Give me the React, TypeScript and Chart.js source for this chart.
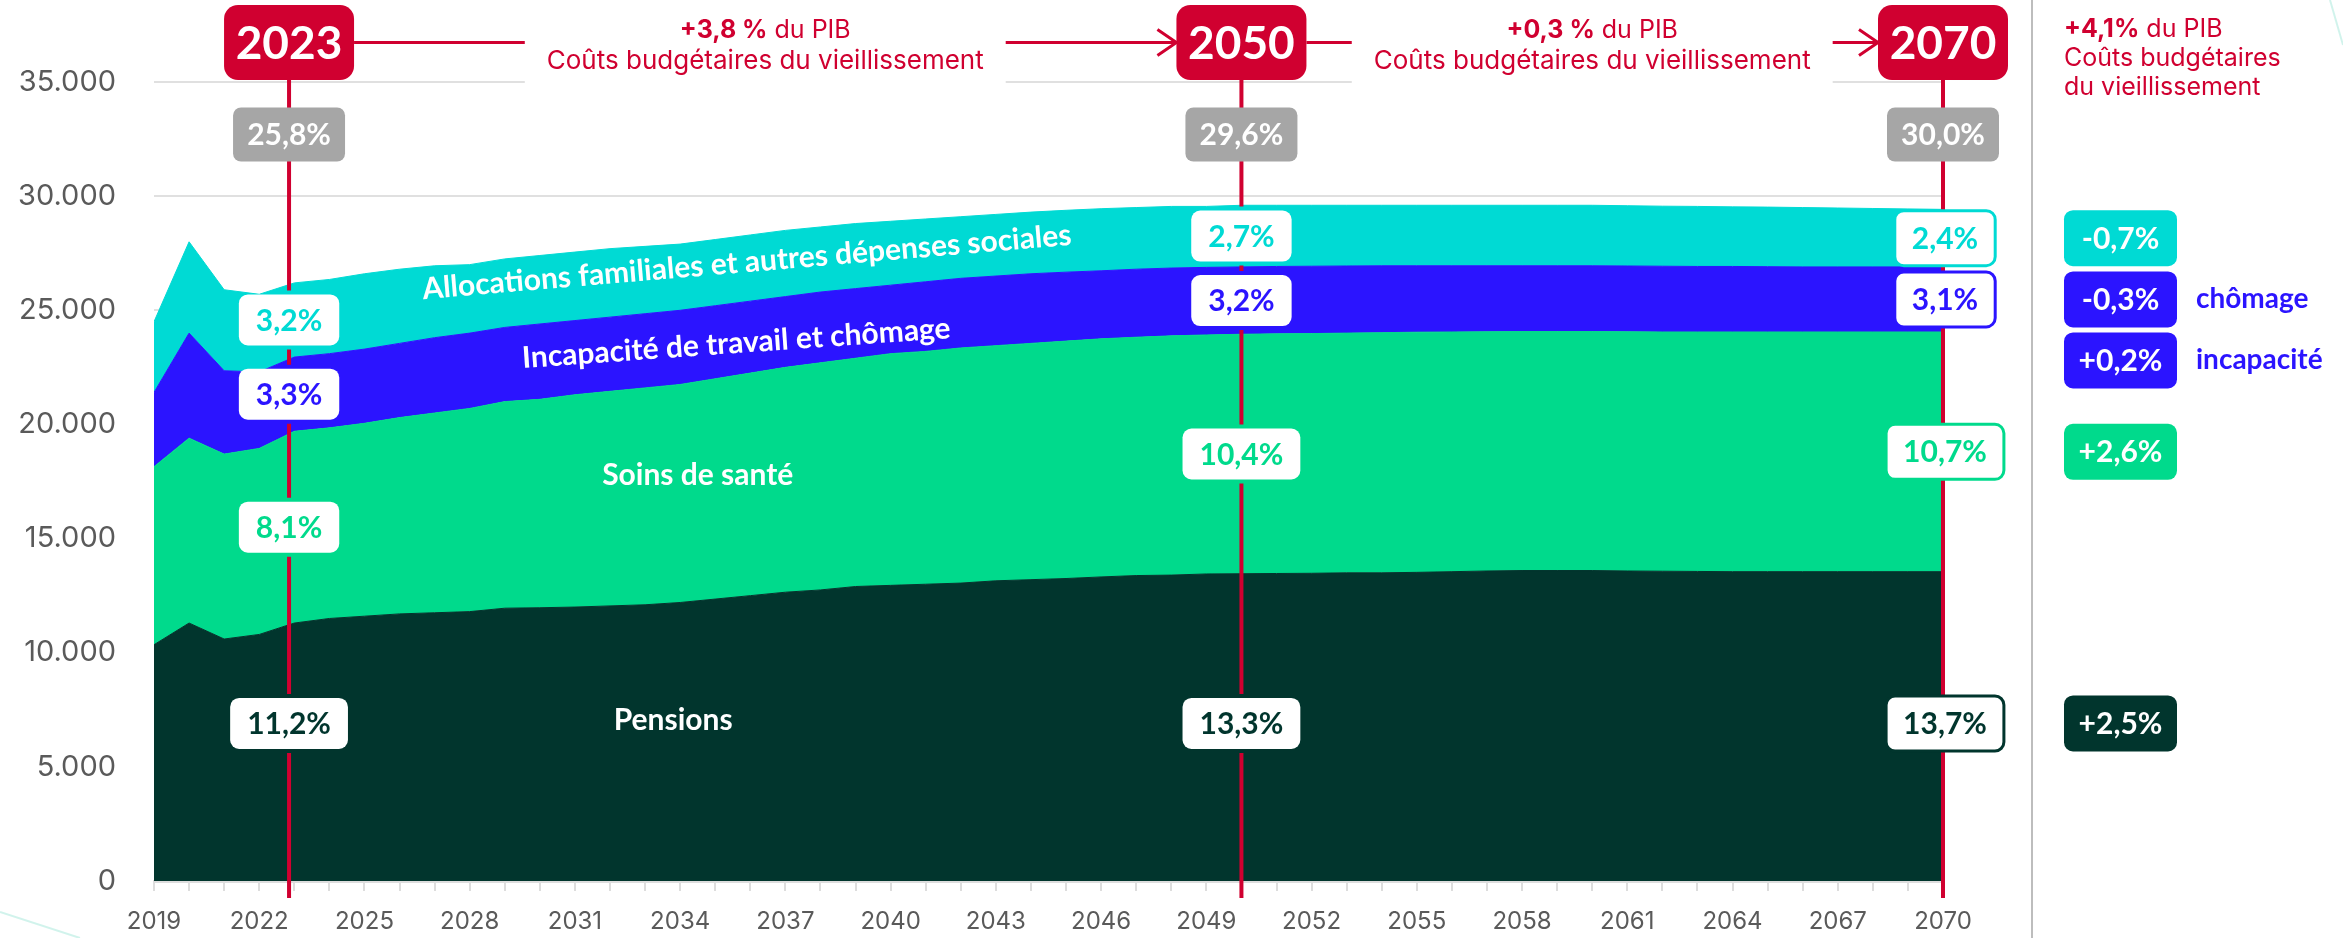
import React, { useEffect, useRef } from 'react';
import { Chart, registerables } from 'chart.js';

Chart.register(...registerables);

// ---------- DATA ----------
const years = Array.from({ length: 52 }, (_, i) => 2019 + i);

const pensions = [
  10350, 11300, 10600, 10800, 11300, 11500, 11600, 11700, 11750, 11800,
  11950, 11970, 12000, 12050, 12100, 12200, 12350, 12500, 12650, 12750,
  12900, 12950, 13000, 13050, 13150, 13200, 13250, 13320, 13380, 13400,
  13450, 13460, 13470, 13480, 13500, 13500, 13520, 13550, 13580, 13600,
  13600, 13600, 13580, 13570, 13560, 13550, 13550, 13550, 13550, 13550,
  13550, 13550,
];
const health = [
  7800, 8100, 8100, 8150, 8400, 8350, 8450, 8600, 8750, 8900,
  9050, 9130, 9300, 9400, 9500, 9550, 9650, 9750, 9850, 9950,
  10000, 10150, 10200, 10300, 10300, 10350, 10400, 10430, 10440, 10480,
  10470, 10490, 10500, 10500, 10500, 10520, 10520, 10500, 10480, 10470,
  10470, 10470, 10480, 10480, 10490, 10500, 10500, 10500, 10500, 10500,
  10500, 10500,
];
const incapacity = [
  3250, 4600, 3650, 3350, 3250, 3250, 3250, 3250, 3300, 3300,
  3250, 3300, 3250, 3250, 3250, 3250, 3200, 3150, 3100, 3100,
  3050, 3000, 3050, 3050, 3050, 3050, 3020, 2980, 2980, 2970,
  2960, 2950, 2950, 2950, 2940, 2930, 2910, 2900, 2890, 2880,
  2880, 2880, 2880, 2880, 2870, 2870, 2860, 2850, 2850, 2850,
  2850, 2850,
];
const allocations = [
  3100, 4000, 3550, 3400, 3250, 3250, 3300, 3250, 3150, 3000,
  3000, 3000, 3000, 3000, 2950, 2900, 2900, 2900, 2900, 2850,
  2850, 2800, 2750, 2700, 2700, 2700, 2710, 2720, 2700, 2700,
  2670, 2700, 2680, 2670, 2660, 2650, 2650, 2650, 2650, 2650,
  2650, 2650, 2640, 2630, 2630, 2610, 2610, 2600, 2580, 2560,
  2540, 2520,
];

const seriesNames = [
  'Pensions',
  'Soins de santé',
  'Incapacité de travail et chômage',
  'Allocations familiales et autres dépenses sociales',
];

const markerYears = [2023, 2050, 2070];
const markerPositions = [2022.85, 2050, 2070];
const totalShares = ['25,8%', '29,6%', '30,0%'];
const pensionShares = ['11,2%', '13,3%', '13,7%'];
const healthShares = ['8,1%', '10,4%', '10,7%'];
const incapacityShares = ['3,3%', '3,2%', '3,1%'];
const allocationShares = ['3,2%', '2,7%', '2,4%'];

const periodChangeBold = ['+3,8 %', '+0,3 %'];
const periodChangeRest = [' du PIB', ' du PIB'];
const costLabel = 'Coûts budgétaires du vieillissement';

const totalChangeBold = '+4,1%';
const totalChangeLines = [' du PIB', 'Coûts budgétaires', 'du vieillissement'];
const changeLabels = ['-0,7%', '-0,3%', '+0,2%', '+2,6%', '+2,5%'];
const changeSideLabels = ['', 'chômage', 'incapacité', '', ''];

const yTickValues = [0, 5000, 10000, 15000, 20000, 25000, 30000, 35000];

// ---------- STYLE ----------
const C_PENS = '#01352D';
const C_HEALTH = '#00DA8C';
const C_INCAP = '#2B14FF';
const C_ALLOC = '#00DAD4';
const C_RED = '#D00030';
const C_GRAY = '#A6A6A6';
const F_LABEL = 'Lato, "Open Sans", sans-serif';
const F_UI = 'Inter, "Noto Sans", sans-serif';

// label anchor positions (data units)
const totalLabelValue = 32700;
const pensionLabelValue = 6900;
const seriesLabelAnchors = [
  { x: 2033.8, y: 7050, angle: 0 },
  { x: 2034.5, y: 17750, angle: 0 },
  { x: 2035.6, y: 23550, angle: -4.0 },
  { x: 2035.9, y: 27100, angle: -4.8 },
];

function rr(ctx: CanvasRenderingContext2D, x: number, y: number, w: number, h: number, r: number) {
  ctx.beginPath();
  (ctx as any).roundRect(x, y, w, h, r);
}

const overlayPlugin = {
  id: 'overlay',
  afterDatasetsDraw(chart: any) {
    const { ctx, chartArea: ca } = chart;
    const xs = chart.scales.x;
    const ys = chart.scales.y;
    ctx.save();

    const colX = markerPositions.map((v) => xs.getPixelForValue(v));
    const colIdx = markerYears.map((y) => years.indexOf(y));
    const stack = (i: number) => {
      const p = pensions[i];
      const g = p + health[i];
      const b = g + incapacity[i];
      const c = b + allocations[i];
      return [0, p, g, b, c];
    };

    const boxH = 75;
    const boxTop = ca.top - 77;
    const boxHalfW = 65;
    const arrowY = boxTop + boxH / 2;

    // ---- top period annotations ----
    for (let k = 0; k < 2; k++) {
      const cx = (colX[k] + colX[k + 1]) / 2;
      ctx.font = `400 26px ${F_UI}`;
      const w2 = ctx.measureText(costLabel).width;
      const coverL = cx - w2 / 2 - 22;
      const coverR = cx + w2 / 2 + 22;
      ctx.fillStyle = '#fff';
      ctx.fillRect(coverL, 0, coverR - coverL, ca.top + 3);

      ctx.strokeStyle = C_RED;
      ctx.lineWidth = 3;
      ctx.beginPath();
      ctx.moveTo(colX[k] + boxHalfW, arrowY);
      ctx.lineTo(coverL, arrowY);
      ctx.moveTo(coverR, arrowY);
      const tip = colX[k + 1] - boxHalfW;
      ctx.lineTo(tip, arrowY);
      ctx.moveTo(tip - 19, arrowY - 13);
      ctx.lineTo(tip, arrowY);
      ctx.lineTo(tip - 19, arrowY + 13);
      ctx.stroke();

      ctx.textBaseline = 'middle';
      ctx.textAlign = 'left';
      ctx.font = `700 25px ${F_UI}`;
      const bw = ctx.measureText(periodChangeBold[k]).width;
      ctx.font = `400 25px ${F_UI}`;
      const rw = ctx.measureText(periodChangeRest[k]).width;
      const tx = cx - (bw + rw) / 2;
      ctx.fillStyle = C_RED;
      ctx.font = `700 25px ${F_UI}`;
      ctx.fillText(periodChangeBold[k], tx, arrowY - 12);
      ctx.font = `400 25px ${F_UI}`;
      ctx.fillText(periodChangeRest[k], tx + bw, arrowY - 12);
      ctx.textAlign = 'center';
      ctx.font = `400 26px ${F_UI}`;
      ctx.fillText(costLabel, cx, arrowY + 19);
    }

    // ---- columns ----
    for (let k = 0; k < 3; k++) {
      const x = colX[k];
      const st = stack(colIdx[k]);
      const bordered = k === 2;
      const items = [
        { text: allocationShares[k], color: C_ALLOC, yc: ys.getPixelForValue((st[3] + st[4]) / 2) },
        { text: incapacityShares[k], color: C_INCAP, yc: ys.getPixelForValue((st[2] + st[3]) / 2) },
        { text: healthShares[k], color: C_HEALTH, yc: ys.getPixelForValue((st[1] + st[2]) / 2) },
        { text: pensionShares[k], color: C_PENS, yc: ys.getPixelForValue(pensionLabelValue) },
      ];
      const h = bordered ? 55 : 51;
      const gap = bordered ? 0 : 4;

      // red line segments
      ctx.strokeStyle = C_RED;
      ctx.lineWidth = 4;
      ctx.beginPath();
      let cur = boxTop + boxH;
      const sorted = [...items].sort((a, b) => a.yc - b.yc);
      for (const it of sorted) {
        const t = it.yc - h / 2 - gap;
        if (t > cur) {
          ctx.moveTo(x, cur);
          ctx.lineTo(x, t);
        }
        cur = it.yc + h / 2 + gap;
      }
      ctx.moveTo(x, cur);
      ctx.lineTo(x, ca.bottom + 17);
      ctx.stroke();

      // year box
      ctx.fillStyle = C_RED;
      rr(ctx, x - boxHalfW, boxTop, boxHalfW * 2, boxH, 14);
      ctx.fill();
      ctx.fillStyle = '#fff';
      ctx.font = `700 46px ${F_LABEL}`;
      ctx.textAlign = 'center';
      ctx.textBaseline = 'middle';
      ctx.fillText(String(markerYears[k]), x, arrowY + 2);

      // gray total box
      const gy = ys.getPixelForValue(totalLabelValue);
      ctx.fillStyle = C_GRAY;
      rr(ctx, x - 56, gy - 27, 112, 54, 8);
      ctx.fill();
      ctx.fillStyle = '#fff';
      ctx.font = `700 30px ${F_LABEL}`;
      ctx.fillText(totalShares[k], x, gy + 1);

      // share boxes
      for (const it of items) {
        ctx.font = `700 30px ${F_LABEL}`;
        const tw = ctx.measureText(it.text).width;
        const w = Math.max(tw + 34, 93);
        const bx = bordered ? x + 2 : x;
        ctx.fillStyle = '#fff';
        rr(ctx, bx - w / 2, it.yc - h / 2, w, h, 9);
        ctx.fill();
        if (bordered) {
          ctx.strokeStyle = it.color;
          ctx.lineWidth = 3;
          ctx.stroke();
        }
        ctx.fillStyle = it.color;
        ctx.fillText(it.text, bx, it.yc + 1);
      }

      if (k === 2) {
        // right column
        const sepX = ca.right + 89;
        ctx.strokeStyle = '#BDBDBD';
        ctx.lineWidth = 2;
        ctx.beginPath();
        ctx.moveTo(sepX, 0);
        ctx.lineTo(sepX, chart.height);
        ctx.stroke();

        const rx = ca.right + 121;
        ctx.textAlign = 'left';
        ctx.fillStyle = C_RED;
        ctx.font = `700 25px ${F_UI}`;
        ctx.fillText(totalChangeBold, rx, 29);
        const tbw = ctx.measureText(totalChangeBold).width;
        ctx.font = `400 25px ${F_UI}`;
        ctx.fillText(totalChangeLines[0], rx + tbw, 29);
        ctx.fillText(totalChangeLines[1], rx, 58);
        ctx.fillText(totalChangeLines[2], rx, 87);

        const rows = [
          { color: C_ALLOC, yc: items[0].yc },
          { color: C_INCAP, yc: items[1].yc },
          { color: C_INCAP, yc: items[1].yc + 61 },
          { color: C_HEALTH, yc: items[2].yc },
          { color: C_PENS, yc: items[3].yc },
        ];
        rows.forEach((r, i) => {
          ctx.fillStyle = r.color;
          rr(ctx, rx, r.yc - 28, 113, 56, 9);
          ctx.fill();
          ctx.fillStyle = '#fff';
          ctx.textAlign = 'center';
          ctx.font = `700 30px ${F_LABEL}`;
          ctx.fillText(changeLabels[i], rx + 56.5, r.yc + 1);
          if (changeSideLabels[i]) {
            ctx.textAlign = 'left';
            ctx.fillStyle = C_INCAP;
            ctx.font = `700 28px ${F_LABEL}`;
            ctx.fillText(changeSideLabels[i], rx + 132, r.yc);
          }
        });
      }
    }

    // ---- series labels ----
    ctx.fillStyle = '#fff';
    ctx.font = `700 30px ${F_LABEL}`;
    ctx.textAlign = 'center';
    ctx.textBaseline = 'middle';
    seriesNames.forEach((name, i) => {
      const a = seriesLabelAnchors[i];
      const px = xs.getPixelForValue(a.x);
      const py = ys.getPixelForValue(a.y);
      ctx.save();
      ctx.translate(px, py);
      ctx.rotate((a.angle * Math.PI) / 180);
      ctx.fillText(name, 0, 0);
      ctx.restore();
    });

    // faint decorative strokes
    ctx.strokeStyle = 'rgba(0, 190, 150, 0.18)';
    ctx.lineWidth = 2;
    ctx.beginPath();
    ctx.moveTo(0, 912);
    ctx.lineTo(80, 938);
    ctx.moveTo(chart.width - 13, 0);
    ctx.lineTo(chart.width, 45);
    ctx.stroke();

    ctx.restore();
  },
};

export default function App() {
  const ref = useRef<HTMLCanvasElement>(null);
  useEffect(() => {
    document.body.style.margin = '0';
    const mk = (arr: number[]) => arr.map((v, i) => ({ x: years[i], y: v }));
    const common = { pointRadius: 0, tension: 0, borderWidth: 1 };
    const chart = new Chart(ref.current as HTMLCanvasElement, {
      type: 'line',
      data: {
        datasets: [
          { label: seriesNames[0], data: mk(pensions), backgroundColor: C_PENS, borderColor: C_PENS, fill: 'origin', ...common },
          { label: seriesNames[1], data: mk(health), backgroundColor: C_HEALTH, borderColor: C_HEALTH, fill: '-1', ...common },
          { label: seriesNames[2], data: mk(incapacity), backgroundColor: C_INCAP, borderColor: C_INCAP, fill: '-1', ...common },
          { label: seriesNames[3], data: mk(allocations), backgroundColor: C_ALLOC, borderColor: C_ALLOC, fill: '-1', ...common },
        ],
      },
      options: {
        responsive: false,
        animation: false,
        devicePixelRatio: 1,
        layout: { padding: { top: 82, right: 400, bottom: 0, left: 0 } },
        plugins: { legend: { display: false }, tooltip: { enabled: false } },
        scales: {
          x: {
            type: 'linear',
            min: 2019,
            max: 2070,
            afterFit: (s: any) => { s.height = 57; },
            ticks: {
              stepSize: 1,
              autoSkip: false,
              maxRotation: 0,
              minRotation: 0,
              padding: 16,
              color: '#5A5A5A',
              font: { family: F_UI, size: 24 },
              callback: (v: any) => ((Number(v) - 2019) % 3 === 0 ? String(v) : ''),
            },
            grid: { display: true, drawOnChartArea: false, drawTicks: true, tickLength: 10, color: '#DDDDDD', lineWidth: 2 },
            border: { display: true, color: '#DDDDDD', width: 3 },
          },
          y: {
            stacked: true,
            min: 0,
            max: 35000,
            afterFit: (s: any) => { s.width = 154; },
            afterBuildTicks: (s: any) => { s.ticks = yTickValues.map((v) => ({ value: v })); },
            ticks: {
              padding: 38,
              color: '#5A5A5A',
              font: { family: F_UI, size: 29 },
              callback: (v: any) => Number(v).toLocaleString('de-DE'),
            },
            grid: { color: '#E0E0E0', lineWidth: 2, drawTicks: false },
            border: { display: false },
          },
        },
      } as any,
      plugins: [overlayPlugin],
    });
    return () => chart.destroy();
  }, []);
  return (
    <div style={{ position: 'absolute', left: 0, top: 0, width: 2343, height: 938, background: '#fff' }}>
      <canvas ref={ref} width={2343} height={938} style={{ width: 2343, height: 938, display: 'block' }} />
    </div>
  );
}
